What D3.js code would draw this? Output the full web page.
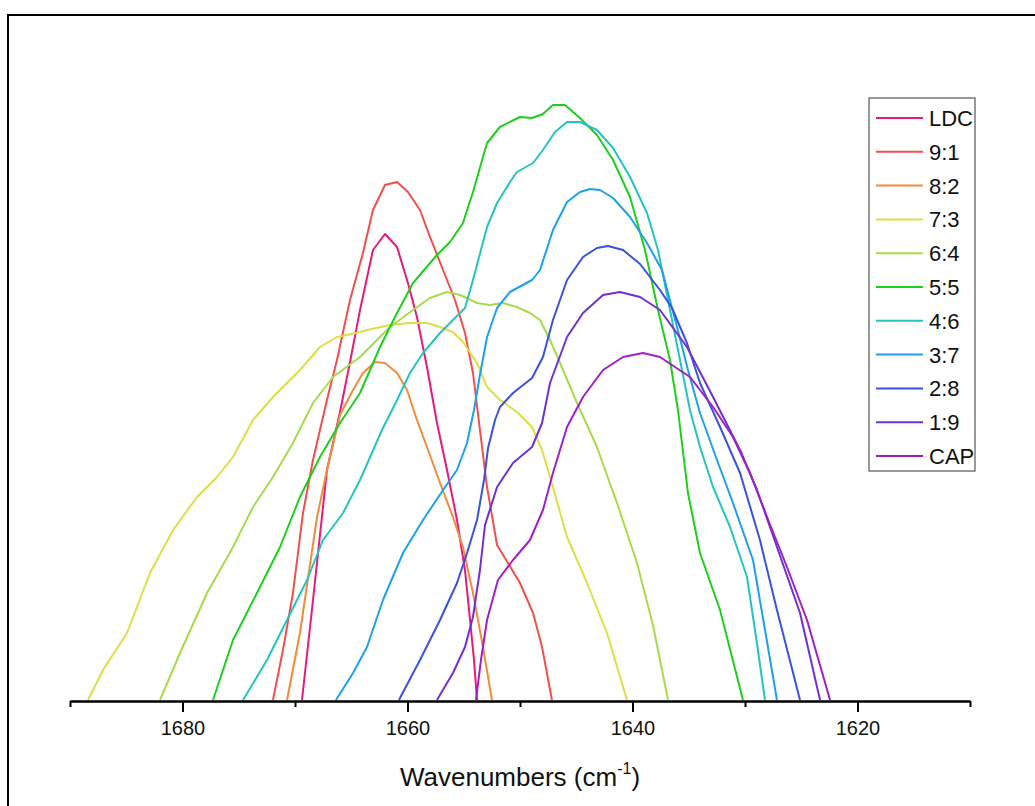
<!DOCTYPE html>
<html>
<head>
<meta charset="utf-8">
<script src="https://cdn.jsdelivr.net/npm/d3@7/dist/d3.min.js"></script>
<style>
  html, body { margin: 0; padding: 0; background: #fff; }
  svg { display: block; font-family: "Liberation Sans", Arial, sans-serif; }
</style>
</head>
<body>
<svg id="chart" width="1035" height="806"></svg>
<script>
// ---- data: [wavenumber (cm-1), intensity (a.u.)] ----
const seriesNames = ["LDC", "9:1", "8:2", "7:3", "6:4", "5:5", "4:6", "3:7", "2:8", "1:9", "CAP"];
const seriesColors = ["#e6197d", "#f0504b", "#f08c3c", "#dede46", "#a6dc4a", "#1ecf1e", "#26c4c0", "#1ea0ee", "#3a52e0", "#7030d8", "#a020c8"];

const ldc = [[1669.38,1],[1668.4,101],[1667.16,231],[1666.0,289],[1665.11,339],[1664.22,391],[1663.07,451],[1662.0,467],[1660.93,454],[1659.96,418],[1659.16,384],[1658.27,334],[1657.38,278],[1656.49,231],[1655.6,181],[1654.89,131],[1654.44,81],[1654.09,41],[1653.82,1]];
const r91 = [[1671.96,1],[1671.07,51],[1670.18,108],[1669.29,188],[1668.4,241],[1667.16,301],[1666.27,341],[1665.11,401],[1663.96,448],[1663.07,491],[1662.0,516],[1660.93,519],[1659.96,509],[1658.89,491],[1658.0,464],[1656.84,431],[1655.78,401],[1654.89,368],[1654.18,328],[1653.56,271],[1652.93,214],[1652.04,156],[1651.07,138],[1650.0,118],[1648.84,88],[1648.04,54],[1647.16,1]];
const r82 = [[1670.71,1],[1669.56,68],[1668.04,184],[1667.16,231],[1666.0,286],[1664.84,311],[1663.96,328],[1662.89,339],[1662.0,338],[1660.93,328],[1660.04,311],[1659.16,281],[1658.27,254],[1657.11,218],[1655.96,184],[1655.07,154],[1654.18,108],[1653.29,54],[1652.49,1]];
const r73 = [[1688.4,1],[1687.07,31],[1684.93,68],[1682.89,128],[1680.84,171],[1678.71,204],[1676.93,224],[1675.51,244],[1673.73,281],[1671.96,304],[1669.56,331],[1667.78,354],[1666.27,364],[1664.22,369],[1663.6,371],[1661.56,376],[1659.78,378],[1658.27,378],[1657.11,374],[1655.96,369],[1655.07,359],[1653.82,338],[1652.93,314],[1651.78,301],[1650.89,294],[1650.27,289],[1648.93,274],[1648.04,251],[1647.33,224],[1645.82,164],[1644.04,118],[1642.27,68],[1640.49,1]];
const r64 = [[1682.0,1],[1680.22,48],[1677.82,108],[1675.51,154],[1673.73,194],[1671.96,224],[1670.18,258],[1668.4,298],[1666.62,324],[1664.22,344],[1661.56,374],[1659.51,391],[1658.0,403],[1656.49,409],[1655.33,406],[1653.82,398],[1652.67,396],[1651.51,398],[1650.27,394],[1649.11,388],[1648.22,381],[1647.33,361],[1646.44,338],[1644.93,298],[1643.16,254],[1641.38,198],[1639.6,138],[1638.18,76],[1636.84,1]];
const r55 = [[1677.29,1],[1675.51,61],[1673.38,108],[1671.33,154],[1669.56,204],[1667.78,244],[1666.0,278],[1664.22,308],[1662.44,354],[1660.93,388],[1659.51,418],[1657.38,446],[1656.22,459],[1655.07,478],[1654.18,509],[1652.93,558],[1651.78,574],[1650.0,584],[1648.93,583],[1647.96,587],[1647.07,596],[1646.0,596],[1644.67,583],[1643.16,566],[1641.73,541],[1640.22,504],[1638.89,451],[1637.73,391],[1636.67,341],[1635.96,291],[1635.07,208],[1634.0,148],[1632.22,91],[1630.18,1]];
const r46 = [[1674.62,1],[1672.49,41],[1670.71,81],[1668.93,121],[1667.51,161],[1665.73,188],[1664.22,221],[1662.27,271],[1660.93,301],[1659.78,328],[1658.62,348],[1657.11,368],[1655.96,381],[1654.89,393],[1654.18,421],[1652.93,474],[1652.04,498],[1650.89,519],[1650.27,529],[1648.84,538],[1647.96,551],[1646.89,569],[1645.82,579],[1644.67,579],[1643.16,571],[1641.73,553],[1640.22,524],[1638.71,488],[1637.73,451],[1636.49,381],[1635.6,331],[1634.89,291],[1634.0,254],[1632.84,214],[1631.33,174],[1629.82,124],[1629.02,64],[1628.22,1]];
const r37 = [[1666.36,1],[1664.84,28],[1663.6,54],[1662.18,101],[1660.4,148],[1658.62,181],[1656.84,211],[1655.6,231],[1654.71,258],[1654.09,291],[1653.56,326],[1652.93,364],[1652.04,393],[1650.89,409],[1648.93,421],[1648.22,431],[1647.07,471],[1645.82,499],[1644.67,509],[1643.78,512],[1642.89,511],[1641.73,503],[1640.22,484],[1638.71,458],[1637.38,431],[1636.04,374],[1635.07,331],[1634.0,288],[1632.49,241],[1631.07,198],[1629.29,141],[1628.22,71],[1627.16,1]];
const r28 = [[1660.76,1],[1658.89,41],[1657.11,81],[1655.6,118],[1654.71,148],[1653.82,181],[1653.2,221],[1652.84,253],[1652.22,281],[1651.78,294],[1650.62,308],[1648.93,323],[1647.96,344],[1647.07,381],[1645.82,421],[1644.4,444],[1643.16,453],[1642.18,455],[1640.84,451],[1639.33,437],[1637.56,411],[1636.49,393],[1635.16,358],[1634.0,318],[1632.22,274],[1630.44,228],[1628.67,161],[1627.16,91],[1625.11,1]];
const r19 = [[1657.38,1],[1655.96,28],[1654.89,54],[1654.18,84],[1653.56,131],[1653.11,176],[1652.04,214],[1650.62,238],[1648.93,254],[1648.04,278],[1647.33,318],[1645.82,364],[1644.4,388],[1642.62,406],[1641.11,409],[1639.33,404],[1637.56,391],[1635.16,354],[1632.84,304],[1630.44,251],[1628.93,211],[1627.16,154],[1625.11,88],[1623.33,1]];
const cap = [[1653.91,1],[1653.47,41],[1652.93,81],[1651.96,121],[1650.62,141],[1649.11,161],[1647.96,191],[1647.07,228],[1645.82,274],[1644.4,304],[1642.62,331],[1640.84,344],[1639.07,348],[1637.56,344],[1634.89,324],[1632.84,294],[1631.07,264],[1629.56,228],[1628.04,184],[1626.27,134],[1624.49,81],[1622.44,1]];

const seriesData = [ldc, r91, r82, r73, r64, r55, r46, r37, r28, r19, cap];

const majorTicks = [1680, 1660, 1640, 1620];
const minorTicks = [1690, 1670, 1650, 1630, 1610];
const xTitle = "Wavenumbers (cm";
const xTitleSup = "-1";

// ---- layout ----
const svg = d3.select("#chart");
const x = d3.scaleLinear().domain([1690, 1610]).range([70, 970]);
const y = d3.scaleLinear().domain([0, 600]).range([701, 101]);

// outer frame (left and top edges visible)
svg.append("path")
  .attr("d", "M8,806 L8,15 L1035,15")
  .attr("fill", "none").attr("stroke", "#000").attr("stroke-width", 2);

// curves
const line = d3.line().x(d => x(d[0])).y(d => y(d[1]));
seriesData.forEach((s, i) => {
  svg.append("path")
    .datum(s)
    .attr("d", line)
    .attr("fill", "none")
    .attr("stroke", seriesColors[i])
    .attr("stroke-width", 2)
    .attr("stroke-linejoin", "round");
});

// axis
const axisY = y(0);
const gMinor = svg.append("g").attr("transform", `translate(0,${axisY})`)
  .call(d3.axisBottom(x).tickValues(minorTicks).tickSize(6).tickSizeOuter(0).tickFormat(""));
const gMajor = svg.append("g").attr("transform", `translate(0,${axisY})`)
  .call(d3.axisBottom(x).tickValues(majorTicks).tickSize(11).tickSizeOuter(0).tickPadding(9).tickFormat(d3.format("d")));
[gMinor, gMajor].forEach(g => {
  g.select(".domain").attr("stroke", "#000").attr("stroke-width", 2);
  g.selectAll(".tick line").attr("stroke", "#000").attr("stroke-width", 2);
});
gMajor.selectAll(".tick text")
  .attr("font-size", 20).attr("fill", "#111")
  .attr("font-family", "'Liberation Sans', Arial, sans-serif");

// axis title
const title = svg.append("text")
  .attr("x", 520).attr("y", 786)
  .attr("text-anchor", "middle")
  .attr("font-size", 26).attr("fill", "#111");
title.append("tspan").text(xTitle);
title.append("tspan").attr("font-size", 16).attr("dy", -12).text(xTitleSup);
title.append("tspan").attr("dy", 12).text(")");

// legend
const lg = svg.append("g");
lg.append("rect")
  .attr("x", 869).attr("y", 98).attr("width", 106).attr("height", 373)
  .attr("fill", "#fff").attr("stroke", "#555").attr("stroke-width", 1.2);
seriesNames.forEach((name, i) => {
  const yy = 118 + i * 33.8;
  lg.append("line")
    .attr("x1", 876).attr("x2", 923).attr("y1", yy).attr("y2", yy)
    .attr("stroke", seriesColors[i]).attr("stroke-width", 2);
  lg.append("text")
    .attr("x", 929).attr("y", yy + 8)
    .attr("font-size", 22).attr("fill", "#111")
    .text(name);
});
</script>
</body>
</html>
